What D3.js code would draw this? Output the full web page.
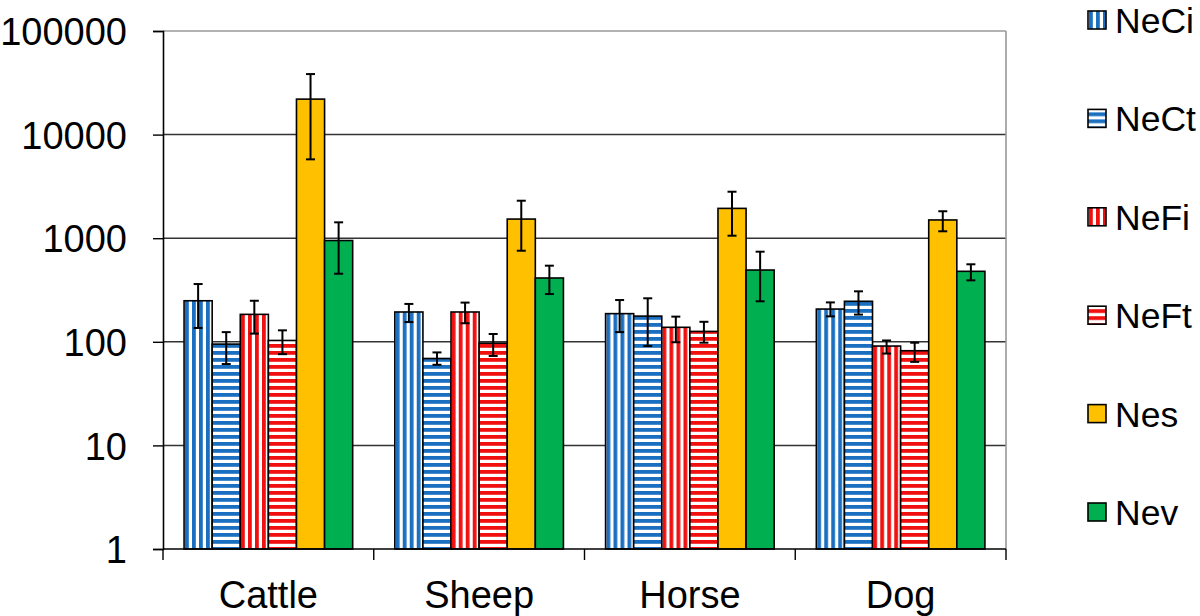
<!DOCTYPE html>
<html>
<head>
<meta charset="utf-8">
<script src="https://cdn.jsdelivr.net/npm/d3@7"></script>
<style>
  html, body { margin: 0; padding: 0; background: #fff; }
  svg { display: block; }
  text { font-family: "Liberation Sans", Arial, sans-serif; fill: #000; }
</style>
</head>
<body>
<svg id="chart" width="1200" height="616"></svg>
<script>
// ---- data ----
const categories = ["Cattle", "Sheep", "Horse", "Dog"];
const seriesNames = ["NeCi", "NeCt", "NeFi", "NeFt", "Nes", "Nev"];
const NeCi = [249, 194, 187, 207];
const NeCt = [95, 69, 177, 246];
const NeFi = [184, 194, 138, 91];
const NeFt = [103, 97, 126, 82];
const Nes  = [22000, 1530, 1940, 1500];
const Nev  = [950, 413, 493, 479];
const NeCiErr = [[136, 361], [155, 232], [124, 253], [176, 240]];
const NeCtErr = [[61, 124], [60, 79], [91, 263], [183, 307]];
const NeFiErr = [[120, 249], [151, 239], [99, 175], [77, 103]];
const NeFtErr = [[76, 129], [73, 119], [98, 156], [64, 98]];
const NesErr  = [[5770, 38400], [757, 2300], [1057, 2810], [1166, 1820]];
const NevErr  = [[454, 1423], [289, 543], [246, 741], [392, 560]];
const yTicks = [1, 10, 100, 1000, 10000, 100000];

const values = [NeCi, NeCt, NeFi, NeFt, Nes, Nev];
const errors = [NeCiErr, NeCtErr, NeFiErr, NeFtErr, NesErr, NevErr];

// ---- layout ----
const svg = d3.select("#chart");
const pLeft = 163, pRight = 1006, pTop = 31, pBottom = 549;
const blue = "#1b6fc0", red = "#f01010", gold = "#ffc000", green = "#00b050";
const fills = ["url(#vBlue)", "url(#hBlue)", "url(#vRed)", "url(#hRed)", gold, green];
const fs = 38;

const defs = svg.append("defs");
function stripe(id, color, vertical) {
  const p = defs.append("pattern").attr("id", id)
    .attr("patternUnits", "userSpaceOnUse")
    .attr("width", 7).attr("height", 7);
  p.append("rect").attr("width", 7).attr("height", 7).attr("fill", "#fff");
  if (vertical) p.append("rect").attr("x", 1).attr("width", 3.8).attr("height", 7).attr("fill", color);
  else p.append("rect").attr("y", 1).attr("width", 7).attr("height", 3.8).attr("fill", color);
}
stripe("vBlue", blue, true);
stripe("hBlue", blue, false);
stripe("vRed", red, true);
stripe("hRed", red, false);

const x0 = d3.scaleBand().domain(categories).range([pLeft, pRight]).paddingInner(0).paddingOuter(0);
const x1 = d3.scaleBand().domain(seriesNames).range([0, x0.bandwidth()]).paddingOuter(0.75).paddingInner(0);
const y = d3.scaleLog().domain([1, 100000]).range([pBottom, pTop]);

// gridlines
svg.append("g").selectAll("line").data(yTicks.slice(1, -1)).join("line")
  .attr("x1", pLeft).attr("x2", pRight)
  .attr("y1", d => y(d)).attr("y2", d => y(d))
  .attr("stroke", "#333").attr("stroke-width", 1.5);
// plot border top/right
svg.append("line").attr("x1", pLeft).attr("x2", pRight).attr("y1", y(100000)).attr("y2", y(100000))
  .attr("stroke", "#999").attr("stroke-width", 1.6);
svg.append("line").attr("x1", pRight).attr("x2", pRight).attr("y1", pTop).attr("y2", pBottom)
  .attr("stroke", "#999").attr("stroke-width", 1.6);

// bars
const groups = svg.append("g").selectAll("g").data(categories).join("g")
  .attr("transform", c => `translate(${x0(c)},0)`);
seriesNames.forEach((s, si) => {
  groups.append("rect")
    .attr("x", x1(s)).attr("width", x1.bandwidth())
    .attr("y", (c, ci) => y(values[si][ci]))
    .attr("height", (c, ci) => pBottom - y(values[si][ci]))
    .attr("fill", fills[si]).attr("stroke", "#000").attr("stroke-width", 1.6);
});
// error bars
seriesNames.forEach((s, si) => {
  const cx = x1(s) + x1.bandwidth() / 2;
  const eg = groups.append("g");
  eg.append("line").attr("x1", cx).attr("x2", cx)
    .attr("y1", (c, ci) => y(errors[si][ci][0])).attr("y2", (c, ci) => y(errors[si][ci][1]))
    .attr("stroke", "#000").attr("stroke-width", 2);
  [0, 1].forEach(k => {
    eg.append("line").attr("x1", cx - 4.5).attr("x2", cx + 4.5)
      .attr("y1", (c, ci) => y(errors[si][ci][k])).attr("y2", (c, ci) => y(errors[si][ci][k]))
      .attr("stroke", "#000").attr("stroke-width", 2);
  });
});

// y axis
const yAxis = d3.axisLeft(y).tickValues(yTicks).tickFormat(d3.format("d")).tickSize(10).tickPadding(26);
const ya = svg.append("g").attr("transform", `translate(${pLeft},0)`).call(yAxis);
ya.select(".domain").attr("stroke", "#000").attr("stroke-width", 1.6);
ya.selectAll(".tick line").attr("stroke", "#000").attr("stroke-width", 1.4);
ya.selectAll(".tick text").attr("font-size", fs).attr("dy", "0.36em")
  .attr("font-family", "Liberation Sans, Arial, sans-serif");

// x axis
svg.append("line").attr("x1", pLeft).attr("x2", pRight).attr("y1", pBottom).attr("y2", pBottom)
  .attr("stroke", "#000").attr("stroke-width", 1.6);
const bounds = categories.map(c => x0(c)).concat([pRight]);
svg.append("g").selectAll("line").data(bounds).join("line")
  .attr("x1", d => d).attr("x2", d => d).attr("y1", pBottom).attr("y2", pBottom + 11)
  .attr("stroke", "#000").attr("stroke-width", 1.4);
svg.append("g").selectAll("text").data(categories).join("text")
  .attr("x", c => x0(c) + x0.bandwidth() / 2).attr("y", 608)
  .attr("text-anchor", "middle").attr("font-size", fs).text(c => c);

// legend
const lg = svg.append("g").selectAll("g").data(seriesNames).join("g")
  .attr("transform", (s, i) => `translate(1088,${20 + i * 98.4})`);
lg.append("rect").attr("x", 0).attr("y", -9).attr("width", 18).attr("height", 18)
  .attr("fill", (s, i) => fills[i]).attr("stroke", "#000").attr("stroke-width", 1.6);
lg.append("text").attr("x", 27).attr("y", 13)
  .attr("font-size", 35.5).text(s => s);
</script>
</body>
</html>
